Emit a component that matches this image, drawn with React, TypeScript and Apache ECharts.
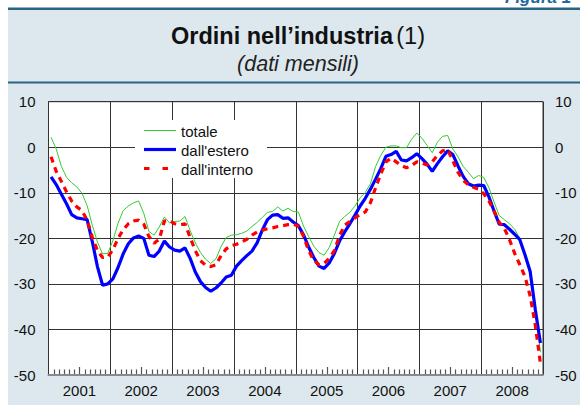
import React, { useEffect, useRef } from 'react';
import * as echarts from 'echarts';

const years = ['2001', '2002', '2003', '2004', '2005', '2006', '2007', '2008'];
const yTicks = [-50, -40, -30, -20, -10, 0, 10];
const seriesNames = ['totale', "dall'estero", "dall'interno"];

// monthly values, Jan 2001 - Dec 2008
const totale = [
  2.2, -0.4, -4.2, -6.6, -7.8, -8.7, -10.1, -12.8, -17.1, -20.8, -23.4, -23.3,
  -20.5, -16.7, -13.9, -12.9, -12.2, -11.8, -14.5, -18.5, -19.3, -17.5, -15.3, -16.6,
  -16.3, -16.2, -15.2, -18.3, -21.0, -23.1, -24.6, -25.5, -24.5, -21.8, -19.8, -19.3,
  -19.2, -18.9, -18.4, -17.4, -16.5, -15.4, -14.3, -14.1, -13.1, -14.0, -13.4, -14.1,
  -14.2, -17.3, -19.6, -21.7, -23.1, -23.7, -22.0, -19.3, -16.3, -15.2, -14.3, -12.9,
  -11.1, -9.9, -8.0, -4.2, -1.8, 0.0, 0.3, 0.3, -0.1, -0.1, 1.8, 3.1,
  2.0, 0.4, -1.2, 1.1, 2.4, 2.6, -0.4, -2.1, -4.2, -5.5, -6.9, -6.2,
  -6.6, -8.9, -12.0, -15.0, -15.9, -16.8, -18.0, -20.0, -23.5, -28.0, -34.5, -45.0,
];
const estero = [
  -6.5, -8.2, -10.3, -12.4, -14.8, -15.5, -15.7, -15.9, -20.7, -26.2, -30.3, -30.0,
  -28.9, -26.4, -23.4, -21.2, -19.9, -19.5, -20.0, -23.7, -24.0, -22.8, -20.6, -21.9,
  -22.6, -22.8, -22.1, -24.4, -27.4, -29.5, -30.8, -31.6, -30.9, -29.8, -28.5, -28.1,
  -26.1, -24.9, -23.8, -22.8, -21.0, -18.2, -15.9, -14.9, -14.8, -15.6, -15.5, -16.4,
  -17.2, -19.2, -21.9, -24.2, -26.1, -26.6, -25.4, -23.3, -20.6, -18.6, -16.8, -14.9,
  -12.9, -11.2, -9.2, -7.0, -4.7, -2.0, -1.6, -0.9, -2.8, -3.0, -2.3, -1.4,
  -2.5, -3.7, -5.3, -3.6, -2.1, -0.8, -1.6, -4.1, -6.4, -8.0, -8.5, -8.3,
  -8.4, -10.9, -14.0, -16.9, -17.0, -18.0, -19.1, -20.3, -23.6, -27.2, -35.6, -43.0,
];
const interno = [
  -2.1, -5.3, -7.5, -9.8, -11.8, -13.1, -13.9, -16.0, -19.7, -22.7, -24.2, -24.1,
  -22.5, -20.0, -18.1, -16.8, -16.2, -16.0, -16.9, -19.6, -21.1, -20.2, -16.2, -16.1,
  -16.8, -17.0, -16.8, -19.8, -22.7, -24.9, -25.9, -26.2, -25.8, -23.8, -22.3, -21.6,
  -21.3, -20.8, -20.2, -19.3, -18.6, -18.2, -17.9, -17.7, -17.4, -17.2, -17.0, -16.9,
  -17.3, -19.5, -22.7, -24.8, -25.8, -25.5, -24.4, -22.7, -19.4, -17.1, -16.3, -15.5,
  -14.8, -14.2, -12.2, -8.9, -5.9, -3.2, -2.4, -3.2, -4.0, -4.5, -4.0, -3.2,
  -3.5, -3.9, -3.2, -1.8, -0.8, -0.5, -3.0, -5.5, -7.2, -8.3, -8.8, -9.2,
  -10.2, -11.8, -14.0, -16.5, -17.8, -20.3, -23.3, -25.8, -28.4, -32.6, -39.0, -47.5,
];

const FONT = '"Liberation Sans", Arial, Helvetica, sans-serif';
const PANEL = '#dde8ee';
const RULE = '#2b6482';
const GREEN = '#33cc33';
const BLUE = '#0000ff';
const RED = '#ff0000';

export default function App() {
  const ref = useRef<HTMLDivElement>(null);
  useEffect(() => {
    if (!ref.current) return;
    const chart = echarts.init(ref.current, undefined, { renderer: 'svg' });
    const toXY = (arr: number[]) => arr.map((v, i) => [i + 0.5, v]);
    const months = years.length * 12;
    const yMin = yTicks[0];

    // legend drawn as graphic elements (line-only keys, as in the original)
    const lgX = 144, lgLen = 32, lgTextX = 181;
    const lgY = [130.5, 149.5, 168.5];
    const lgStyles = [
      { stroke: GREEN, lineWidth: 1 },
      { stroke: BLUE, lineWidth: 3.2 },
      { stroke: RED, lineWidth: 3.2, lineDash: [5.5, 13] },
    ];
    const legendEls: any[] = [
      { type: 'rect', z: 110, shape: { x: 135, y: 120, width: 132, height: 58 }, style: { fill: '#fff' } },
    ];
    seriesNames.forEach((name, k) => {
      legendEls.push({
        type: 'line', z: 111,
        shape: { x1: lgX, y1: lgY[k], x2: lgX + lgLen, y2: lgY[k] },
        style: lgStyles[k],
      });
      legendEls.push({
        type: 'text', z: 111, x: lgTextX, y: lgY[k] + 0.5,
        style: { text: name, font: `15px ${FONT}`, fill: '#111', verticalAlign: 'middle' },
      });
    });

    const staticGraphics: any[] = [
      { type: 'rect', z: 100, shape: { x: 0, y: 0, width: 8, height: 405 }, style: { fill: '#fff' } },
      { type: 'rect', z: 100, shape: { x: 0, y: 0, width: 580, height: 8 }, style: { fill: '#fff' } },
      {
        type: 'text', z: 101, x: 505, y: -11,
        style: { text: 'Figura 1', font: `italic bold 17px ${FONT}`, fill: '#1f6a99' },
      },
      { type: 'rect', z: 102, shape: { x: 8, y: 7.5, width: 572, height: 2.5 }, style: { fill: RULE } },
      { type: 'rect', z: 102, shape: { x: 8, y: 81.5, width: 572, height: 2 }, style: { fill: RULE } },
      {
        type: 'text', z: 103, x: 298, y: 36,
        style: {
          text: '{b|Ordini nell’industria} {n|(1)}',
          align: 'center',
          verticalAlign: 'middle',
          rich: {
            b: { font: `bold 23.5px ${FONT}`, fill: '#111' },
            n: { font: `23.5px ${FONT}`, fill: '#111' },
          },
        },
      },
      {
        type: 'text', z: 103, x: 298, y: 63.5,
        style: {
          text: '(dati mensili)',
          align: 'center',
          verticalAlign: 'middle',
          font: `italic 21.5px ${FONT}`,
          fill: '#222',
        },
      },
      ...legendEls,
    ];

    chart.setOption({
      animation: false,
      backgroundColor: PANEL,
      textStyle: { fontFamily: FONT },
      graphic: staticGraphics,
      grid: {
        left: 48.5,
        right: 37,
        top: 101.7,
        bottom: 30,
        show: true,
        backgroundColor: '#fff',
        borderColor: '#333',
        borderWidth: 1,
      },
      xAxis: [
        {
          type: 'value',
          min: 0,
          max: months,
          interval: 12,
          position: 'bottom',
          axisLine: { show: true, onZero: false, lineStyle: { color: '#8a8a8a', width: 2 } },
          axisTick: { show: false },
          axisLabel: { show: false },
          splitLine: { show: true, lineStyle: { color: '#333', width: 1 } },
        },
        {
          type: 'value',
          min: 0,
          max: months,
          interval: 6,
          position: 'bottom',
          offset: 0,
          axisLine: { show: false, onZero: false },
          axisTick: { show: false },
          splitLine: { show: false },
          axisLabel: {
            show: true,
            margin: 8,
            fontSize: 15,
            color: '#111',
            fontFamily: FONT,
            formatter: (v: number) => (v % 12 === 6 ? years[(v - 6) / 12] : ''),
          },
        },
      ],
      yAxis: [
        {
          type: 'value',
          position: 'left',
          min: yMin,
          max: yTicks[yTicks.length - 1],
          interval: 10,
          axisLine: { show: false },
          axisTick: { show: false },
          axisLabel: { margin: 13, fontSize: 15, color: '#111', fontFamily: FONT },
          splitLine: { show: true, lineStyle: { color: '#333', width: 1 } },
        },
        {
          type: 'value',
          position: 'right',
          min: yMin,
          max: yTicks[yTicks.length - 1],
          interval: 10,
          axisLine: { show: false },
          axisTick: { show: false },
          axisLabel: { margin: 12, fontSize: 15, color: '#111', fontFamily: FONT },
          splitLine: { show: false },
        },
      ],
      series: [
        {
          name: seriesNames[0],
          type: 'line',
          xAxisIndex: 0,
          yAxisIndex: 0,
          symbol: 'none',
          data: toXY(totale),
          lineStyle: { color: GREEN, width: 1 },
          itemStyle: { color: GREEN },
          z: 3,
        },
        {
          name: seriesNames[1],
          type: 'line',
          xAxisIndex: 0,
          yAxisIndex: 0,
          symbol: 'none',
          data: toXY(estero),
          lineStyle: { color: BLUE, width: 3.2 },
          itemStyle: { color: BLUE },
          z: 4,
        },
        {
          name: seriesNames[2],
          type: 'line',
          xAxisIndex: 0,
          yAxisIndex: 0,
          symbol: 'none',
          data: toXY(interno),
          lineStyle: { color: RED, width: 3.2, type: [6, 5] },
          itemStyle: { color: RED },
          z: 5,
        },
      ],
    });

    // month ticks along the bottom axis, positioned through the axis scales
    const tickEls: any[] = [];
    for (let m = 1; m < months; m++) {
      if (m % 12 === 0) continue;
      const p = chart.convertToPixel({ gridIndex: 0 }, [m, yMin]) as number[];
      if (!p || !isFinite(p[0]) || !isFinite(p[1])) continue;
      const len = m % 12 === 6 ? 7 : 4.5;
      const x = Math.round(p[0]) + 0.5;
      tickEls.push({
        type: 'rect', z: 90, silent: true,
        shape: { x: x - 0.6, y: p[1] - 1 - len, width: 1.2, height: len },
        style: { fill: '#555' },
      });
    }
    chart.setOption({ graphic: [...staticGraphics, ...tickEls] });

    return () => chart.dispose();
  }, []);
  return (
    <div style={{ position: 'fixed', left: 0, top: 0, width: 580, height: 405, background: '#fff' }}>
      <div ref={ref} style={{ width: 580, height: 405 }} />
    </div>
  );
}
